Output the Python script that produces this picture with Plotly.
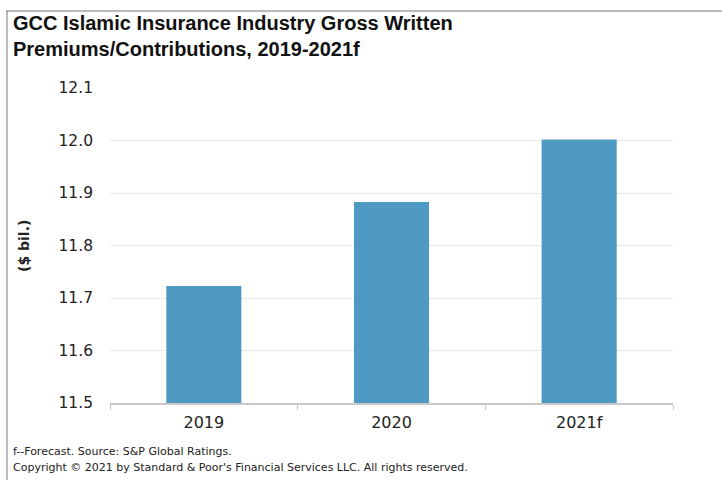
import plotly.graph_objects as go

categories = ["2019", "2020", "2021f"]
values = [11.723, 11.883, 12.002]
y_ticks = [11.5, 11.6, 11.7, 11.8, 11.9, 12.0, 12.1]
y_tick_labels = ["11.5", "11.6", "11.7", "11.8", "11.9", "12.0", "12.1"]

W, H = 722, 480
L, R, T, B = 110, 49, 88, 77
pw, ph = W - L - R, H - T - B

def px_x(x):
    return (x - L) / pw

def px_y(y):
    return (H - B - y) / ph

TICKFONT = "DejaVu Sans, Liberation Sans, Arial, sans-serif"

fig = go.Figure()
fig.add_trace(go.Bar(x=categories, y=values, marker=dict(color="#4F9AC2", line=dict(width=0)),
                     width=0.4, hoverinfo="x+y"))

fig.update_layout(
    width=W, height=H,
    margin=dict(l=L, r=R, t=T, b=B, pad=0),
    paper_bgcolor="white", plot_bgcolor="white",
    showlegend=False,
    font=dict(family="Liberation Sans, Arial, sans-serif", color="#222"),
    xaxis=dict(
        type="category", showgrid=False, showline=True, linecolor="#c8c8c8", linewidth=1.5,
        ticks="outside", tickson="boundaries", ticklen=5, tickcolor="#c8c8c8", tickwidth=1,
        ticklabelstandoff=4,
        tickfont=dict(size=16, color="#222", family=TICKFONT),
    ),
    yaxis=dict(
        range=[11.5, 12.1], tickvals=y_ticks, ticktext=y_tick_labels,
        showgrid=True, gridcolor="#e8e8e8", gridwidth=1, zeroline=False, showline=False,
        ticks="", ticklabelstandoff=16,
        tickfont=dict(size=15.5, color="#222", family=TICKFONT),
    ),
    annotations=[
        dict(text="<b>GCC Islamic Insurance Industry Gross Written<br>Premiums/Contributions, 2019-2021f</b>",
             xref="paper", yref="paper", x=px_x(11), y=px_y(10), xanchor="left", yanchor="top",
             align="left", showarrow=False, font=dict(size=20, color="#111")),
        dict(text="<b>($ bil.)</b>", textangle=-90,
             xref="paper", yref="paper", x=px_x(24), y=px_y(246), xanchor="center", yanchor="middle",
             showarrow=False, font=dict(size=14, color="#222", family=TICKFONT)),
        dict(text="f--Forecast. Source: S&P Global Ratings.",
             xref="paper", yref="paper", x=px_x(11), y=px_y(452), xanchor="left", yanchor="middle",
             align="left", showarrow=False, font=dict(size=11, color="#222", family=TICKFONT)),
        dict(text="Copyright © 2021 by Standard & Poor's Financial Services LLC. All rights reserved.",
             xref="paper", yref="paper", x=px_x(11), y=px_y(467), xanchor="left", yanchor="middle",
             align="left", showarrow=False, font=dict(size=11, color="#222", family=TICKFONT)),
    ],
    shapes=[
        dict(type="line", xref="paper", yref="paper", x0=px_x(6), x1=px_x(722), y0=px_y(11), y1=px_y(11),
             line=dict(color="#777", width=1)),
        dict(type="line", xref="paper", yref="paper", x0=px_x(7), x1=px_x(7), y0=px_y(11), y1=px_y(480),
             line=dict(color="#777", width=1)),
    ],
)

fig.write_html("out.html")
